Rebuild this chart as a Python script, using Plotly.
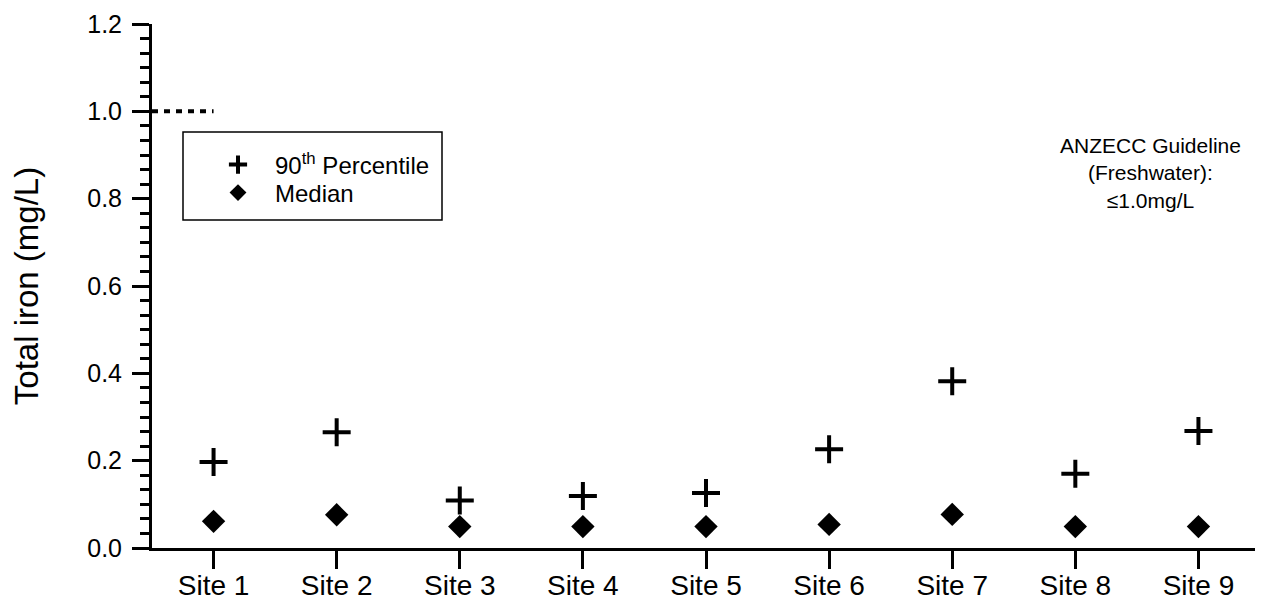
import plotly.graph_objects as go

sites = ["Site 1", "Site 2", "Site 3", "Site 4", "Site 5", "Site 6", "Site 7", "Site 8", "Site 9"]
p90 = [0.197, 0.265, 0.109, 0.119, 0.126, 0.226, 0.382, 0.170, 0.268]
median = [0.061, 0.076, 0.049, 0.049, 0.049, 0.054, 0.077, 0.049, 0.049]
guideline = 1.0
y_ticks = [0.0, 0.2, 0.4, 0.6, 0.8, 1.0, 1.2]
y_ticklabels = ["0.0", "0.2", "0.4", "0.6", "0.8", "1.0", "1.2"]

xpos = list(range(len(sites)))
FONT = "Liberation Sans, Arial, sans-serif"

# page body has an 8px margin: figure is sized/offset to compensate
OFF = 8
W, H = 1255, 597
ml, mr, mt, mb = 144, 3, 16, 57
pw, ph = W - ml - mr, H - mt - mb


def px(xs):  # screen x -> paper x
    return (xs - OFF - ml) / pw


def py(ys):  # screen y -> paper y
    return (H - mb - (ys - OFF)) / ph


fig = go.Figure()

fig.add_trace(go.Scatter(
    x=xpos, y=p90, mode="markers", showlegend=False,
    marker=dict(symbol="cross-thin", size=20, color="black",
                line=dict(width=4, color="black")),
    cliponaxis=False,
))
fig.add_trace(go.Scatter(
    x=xpos, y=median, mode="markers", showlegend=False,
    marker=dict(symbol="diamond", size=18, color="black", line=dict(width=0)),
    cliponaxis=False,
))
fig.add_trace(go.Scatter(
    x=[-0.5, 0], y=[guideline, guideline], mode="lines", showlegend=False,
    line=dict(color="black", width=4, dash="6px,6px"), cliponaxis=False,
    hoverinfo="skip",
))
fig.add_trace(go.Scatter(
    x=[None], y=[None], mode="markers", name="90<sup>th</sup> Percentile",
    legend="legend",
    marker=dict(symbol="cross-thin", size=13, color="black",
                line=dict(width=4, color="black")),
))
fig.add_trace(go.Scatter(
    x=[None], y=[None], mode="markers", name="Median",
    legend="legend2",
    marker=dict(symbol="diamond", size=13, color="black", line=dict(width=0)),
))

fig.add_shape(type="rect", xref="paper", yref="paper",
              x0=px(183), x1=px(442), y0=py(220), y1=py(132),
              line=dict(color="black", width=1.5), fillcolor="rgba(0,0,0,0)")

fig.add_annotation(
    xref="paper", yref="paper", x=px(1150), y=py(173),
    text="ANZECC Guideline<br>(Freshwater):<br>\u22641.0mg/L",
    showarrow=False, xanchor="center", yanchor="middle",
    font=dict(family=FONT, size=21, color="black"), align="center",
)

leg_common = dict(xanchor="left", yanchor="middle", bgcolor="rgba(0,0,0,0)",
                  borderwidth=0, itemwidth=64,
                  font=dict(family=FONT, size=24, color="black"))

fig.update_layout(
    width=W, height=H,
    margin=dict(l=ml, r=mr, t=mt, b=mb, autoexpand=False),
    paper_bgcolor="white", plot_bgcolor="white",
    font=dict(family=FONT, color="black"),
    showlegend=True,
    legend=dict(x=px(201), y=py(165), **leg_common),
    legend2=dict(x=px(201), y=py(193), **leg_common),
    xaxis=dict(
        range=[-0.5, len(sites) - 0.5], tickmode="array", tickvals=xpos,
        ticktext=sites, showgrid=False, zeroline=False,
        showline=True, linecolor="black", linewidth=3,
        ticks="outside", ticklen=18, tickwidth=3, tickcolor="black",
        tickfont=dict(family=FONT, size=28, color="black"),
        ticklabelstandoff=-8,
    ),
    yaxis=dict(
        range=[0, 1.2], tickmode="array", tickvals=y_ticks, ticktext=y_ticklabels,
        showgrid=False, zeroline=False,
        showline=True, linecolor="black", linewidth=3,
        ticks="outside", ticklen=17, tickwidth=3, tickcolor="black",
        tickfont=dict(family=FONT, size=25, color="black"),
        ticklabelstandoff=5,
        minor=dict(ticks="outside", ticklen=9, tickwidth=3, tickcolor="black",
                   dtick=0.2 / 6, tick0=0, showgrid=False),
        title=dict(text="Total iron (mg/L)", standoff=42,
                   font=dict(family=FONT, size=33, color="black")),
    ),
)

fig.write_html("out.html")
